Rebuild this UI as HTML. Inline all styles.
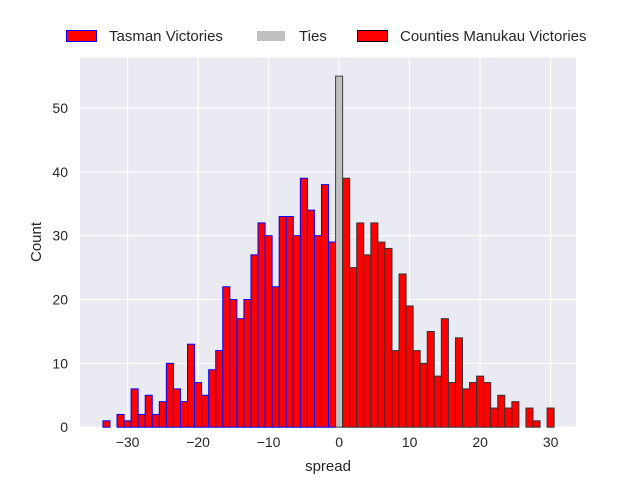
<!DOCTYPE html>
<html><head><meta charset="utf-8"><style>
body{margin:0;background:#fff;}
svg text{font-family:"Liberation Sans","DejaVu Sans",sans-serif;fill:#262626;}
</style></head><body>
<svg id="chart" width="640" height="480" xmlns="http://www.w3.org/2000/svg">
<rect x="0" y="0" width="640" height="480" fill="#fff"/>
<rect x="80" y="57.6" width="496" height="369.6" fill="#eaeaf2"/>
<g id="grid"></g>
<g id="bars"></g>
<g id="ticks"></g>
<text x="328" y="471" font-size="15" text-anchor="middle">spread</text>
<text x="41" y="242" font-size="15" text-anchor="middle" transform="rotate(-90 41 242)">Count</text>
<g>
<rect x="66.5" y="30.5" width="30" height="11" fill="#ff0000" stroke="#0000ff" stroke-width="1"/>
<text x="109" y="41" font-size="15">Tasman Victories</text>
<rect x="257" y="31" width="28" height="10" fill="#c0c0c0"/>
<text x="299" y="41" font-size="15">Ties</text>
<rect x="357.5" y="30.5" width="30" height="11" fill="#ff0000" stroke="#000" stroke-width="1"/>
<text x="400" y="41" font-size="15">Counties Manukau Victories</text>
</g>
</svg>
<script>
const tasmanSpreads=[-33,-32,-31,-30,-29,-28,-27,-26,-25,-24,-23,-22,-21,-20,-19,-18,-17,-16,-15,-14,-13,-12,-11,-10,-9,-8,-7,-6,-5,-4,-3,-2,-1];
const tasmanCounts=[1,0,2,1,6,2,5,2,4,10,6,4,13,7,5,9,12,22,20,17,20,27,32,30,22,33,33,30,39,34,30,38,29];
const tieSpreads=[0];
const tieCounts=[55];
const countiesSpreads=[1,2,3,4,5,6,7,8,9,10,11,12,13,14,15,16,17,18,19,20,21,22,23,24,25,26,27,28,29,30];
const countiesCounts=[39,25,32,27,32,29,28,12,24,19,12,10,15,8,17,7,14,6,7,8,7,3,5,3,4,0,3,1,0,3];
const xTicks=[-30,-20,-10,0,10,20,30];
const yTicks=[0,10,20,30,40,50];
const X0=80,X1=576,Y0=427.2,Y1=57.6,xmin=-36.75,xmax=33.6,ymax=57.9;
const NS="http://www.w3.org/2000/svg";
function sx(v){return X0+(v-xmin)/(xmax-xmin)*(X1-X0);}
function sy(v){return Y0-v/ymax*(Y0-Y1);}
function mk(t,a,p){const e=document.createElementNS(NS,t);for(const k in a)e.setAttribute(k,a[k]);p.appendChild(e);return e;}
const grid=document.getElementById('grid'),bars=document.getElementById('bars'),ticks=document.getElementById('ticks');
xTicks.forEach(t=>{
 const l=mk('line',{x1:sx(t),x2:sx(t),y1:Y1,y2:Y0,stroke:'#fff','stroke-width':1.1},grid);
 
 
 const tx=mk('text',{x:sx(t),y:Y0+20,'font-size':14,'text-anchor':'middle'},ticks);
 tx.textContent=(t<0?'\u2212'+(-t):t);
 
 
});
yTicks.forEach(t=>{
 const l=mk('line',{x1:X0,x2:X1,y1:sy(t),y2:sy(t),stroke:'#fff','stroke-width':1.1},grid);
 
 
 const tx=mk('text',{x:X0-12,y:sy(t)+5,'font-size':14,'text-anchor':'end'},ticks);
 tx.textContent=t;
 
 
});
function draw(xs,cs,fill,stroke,name){
 xs.forEach((x,i)=>{
  if(!cs[i])return;
  const r=mk('rect',{x:sx(x-0.5),y:sy(cs[i]),width:sx(x+0.5)-sx(x-0.5),height:Y0-sy(cs[i]),fill:fill,stroke:stroke,'stroke-width':1},bars);
  
  
 });
}
draw(tasmanSpreads,tasmanCounts,'#ff0000','#0000ff','bar-tasman');
draw(tieSpreads,tieCounts,'#c0c0c0','#404040','bar-tie');
draw(countiesSpreads,countiesCounts,'#ff0000','#333','bar-counties');
</script>
</body></html>
